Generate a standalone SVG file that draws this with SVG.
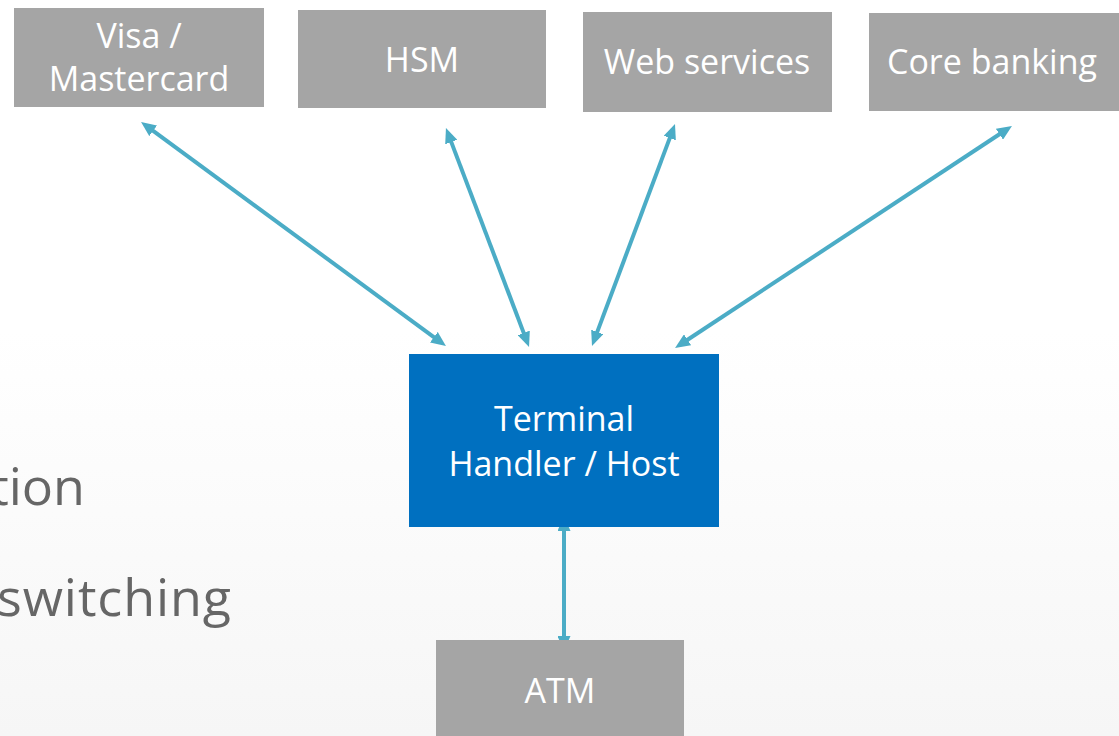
<svg xmlns="http://www.w3.org/2000/svg" width="1119" height="736" viewBox="0 0 1119 736">
  <defs>
    <linearGradient id="bg" x1="0" y1="0" x2="0" y2="1">
      <stop offset="0" stop-color="#ffffff"/>
      <stop offset="0.45" stop-color="#ffffff"/>
      <stop offset="1" stop-color="#f6f6f6"/>
    </linearGradient>
    <marker id="ah" viewBox="0 0 15 13" refX="5" refY="6.5" markerWidth="15" markerHeight="13" markerUnits="userSpaceOnUse" orient="auto-start-reverse">
      <path d="M0,0 L15,6.5 L0,13 z" fill="#4BACC6"/>
    </marker>
  </defs>
  <style>
    .gray { fill: #A5A5A5; }
    .blue { fill: #0070C0; }
    .lbl { font-family: "Open Sans", "Noto Sans", "DejaVu Sans", sans-serif; fill: #ffffff; text-anchor: middle; font-size: 34px; }
    .bg-text { font-family: "Open Sans", "Noto Sans", "DejaVu Sans", sans-serif; fill: #666666; font-size: 52px; }
    .conn { stroke: #4BACC6; stroke-width: 4; fill: none; marker-start: url(#ah); marker-end: url(#ah); }
  </style>
  <rect x="0" y="0" width="1119" height="736" fill="url(#bg)"/>
  <text class="bg-text" x="85" y="505" text-anchor="end">tion</text>
  <text class="bg-text" x="-3" y="616" textLength="234" lengthAdjust="spacing">switching</text>

  <g id="connectors">
    <line class="conn" x1="149.1" y1="127.9" x2="437.9" y2="340.1"/>
    <line class="conn" x1="449.5" y1="137.4" x2="525.5" y2="337.6"/>
    <line class="conn" x1="671.5" y1="133.4" x2="595.5" y2="336.6"/>
    <line class="conn" x1="1003.6" y1="131.5" x2="683.4" y2="342.5"/>
    <line class="conn" x1="564" y1="526" x2="564" y2="641"/>
  </g>

  <g id="visa">
    <rect class="gray" x="14" y="8" width="250" height="99"/>
    <text class="lbl" x="139" y="48">Visa /</text>
    <text class="lbl" x="139" y="91">Mastercard</text>
  </g>
  <g id="hsm">
    <rect class="gray" x="298" y="10" width="248" height="98"/>
    <text class="lbl" x="422" y="72">HSM</text>
  </g>
  <g id="web">
    <rect class="gray" x="583" y="12" width="249" height="100"/>
    <text class="lbl" x="707" y="74">Web services</text>
  </g>
  <g id="core">
    <rect class="gray" x="869" y="13" width="250" height="98"/>
    <text class="lbl" x="992" y="74">Core banking</text>
  </g>
  <g id="host">
    <rect class="blue" x="409" y="354" width="310" height="173"/>
    <text class="lbl" x="564" y="431">Terminal</text>
    <text class="lbl" x="564" y="476">Handler / Host</text>
  </g>
  <g id="atm">
    <rect class="gray" x="436" y="640" width="248" height="96"/>
    <text class="lbl" x="560" y="703">ATM</text>
  </g>
</svg>
